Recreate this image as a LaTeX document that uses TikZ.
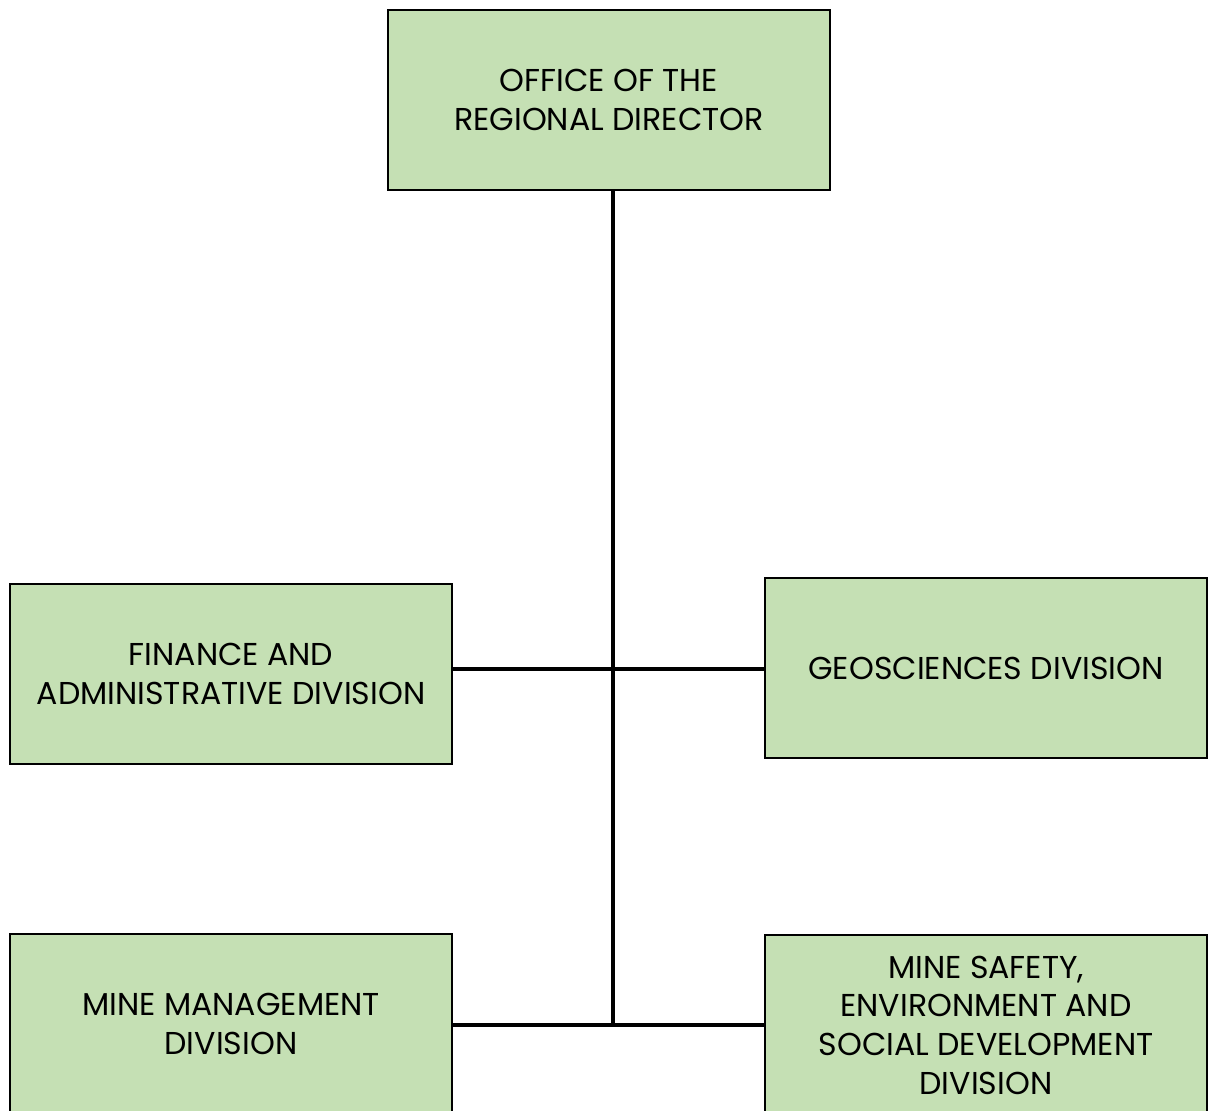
\documentclass[tikz,border=0pt]{standalone}
\usepackage{fontspec}
\setmainfont{Poppins}
\definecolor{boxgreen}{HTML}{C5E0B4}
\begin{document}
\begin{tikzpicture}[x=0.02cm,y=-0.02cm,
  unit/.style={draw=black, fill=boxgreen, line width=1.6pt, minimum width=8.84cm, minimum height=3.6cm,
    align=center, inner sep=0pt, font=\fontsize{18}{22}\selectfont},
  link/.style={draw=black, line width=2.3pt}]
\useasboundingbox (0,0) rectangle (1208,1111);
\clip (0,0) rectangle (1208,1111);
\node[unit] (top) at (609,100) {OFFICE OF THE\\REGIONAL DIRECTOR};
\node[unit] (fin) at (231,674) {FINANCE AND\\ADMINISTRATIVE DIVISION};
\node[unit] (geo) at (986,668) {GEOSCIENCES DIVISION};
\node[unit] (mm) at (231,1024) {MINE MANAGEMENT\\DIVISION};
\node[unit] (ms) at (986,1025) {MINE SAFETY,\\ENVIRONMENT AND\\SOCIAL DEVELOPMENT\\DIVISION};
\coordinate (j1) at (613,669);
\coordinate (j2) at (613,1025);
\draw[link] (top.south -| j1) -- (j2);
\draw[link] (fin.east |- j1) -- (geo.west |- j1);
\draw[link] (mm.east |- j2) -- (ms.west |- j2);
\end{tikzpicture}
\end{document}
